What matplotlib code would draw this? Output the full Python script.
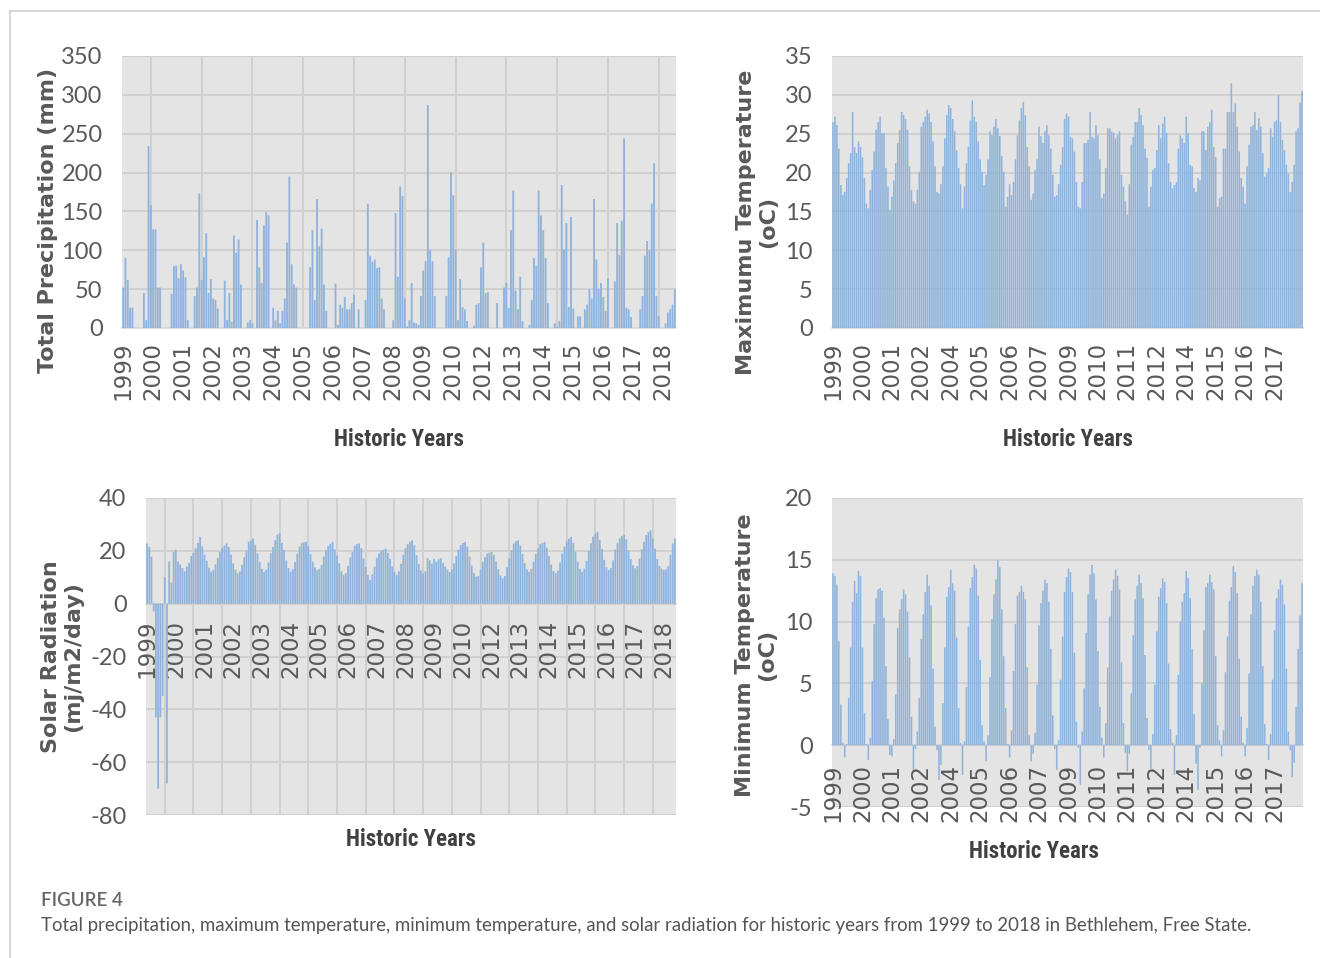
import matplotlib
matplotlib.use("Agg")
import matplotlib.pyplot as plt
from matplotlib.lines import Line2D
import numpy as np

plt.rcParams["axes.unicode_minus"] = False

# ---------------- data (monthly, Jan 1999 - Dec 2018) ----------------
precip_mm = [
    52, 90, 62, 26, 26, 0, 0, 0, 0, 45, 10, 234, 158, 127, 127, 52, 52, 0, 0, 0,
    0, 44, 80, 80, 64, 82, 74, 65, 10, 0, 0, 41, 52, 173, 62, 91, 122, 45, 63, 38,
    36, 25, 0, 0, 61, 10, 45, 8, 119, 97, 114, 56, 0, 0, 7, 10, 6, 0, 139, 78,
    58, 132, 149, 145, 0, 26, 10, 22, 6, 22, 38, 110, 195, 82, 56, 52, 0, 0, 0, 0,
    0, 78, 126, 36, 166, 105, 128, 56, 22, 0, 0, 0, 57, 4, 30, 26, 40, 24, 24, 32,
    43, 0, 24, 0, 0, 36, 160, 93, 85, 88, 77, 78, 38, 24, 0, 0, 0, 10, 148, 66,
    182, 170,
    38, 2, 10, 58, 7, 6, 4, 41, 74, 86, 287, 100, 86, 41, 0, 0, 0, 0, 41, 91,
    200, 171, 101, 10, 63, 27, 24, 9, 0, 0, 3, 30, 32, 78, 110, 45, 46, 0, 0, 0,
    32, 0, 0, 52, 58, 26, 126, 177, 48, 24, 66, 9, 0, 0, 4, 36, 90, 80, 177, 145,
    126, 90, 32, 0, 0, 6, 2, 9, 184, 101, 135, 27, 143, 25, 0, 15, 15, 0, 24, 30,
    50, 38, 166, 88, 50, 58, 40, 22, 64, 0, 0, 60, 135, 94, 138, 244, 26, 24, 14, 0,
    0, 0, 24, 41, 93, 112, 100, 160, 212, 41, 15, 0, 0, 6, 20, 24, 30, 50,
]

tmax_c = [
    26.5, 27.2, 26.1, 23.1, 18.4, 17.1, 17.5, 19.3, 21.2, 22.5, 27.8, 23.3,
    22.5, 24.0, 23.3, 22.0, 19.3, 16.0, 15.4, 17.8, 20.3, 22.7, 25.5, 26.5,
    27.2, 25.1, 25.1, 20.6, 18.2, 15.2, 16.9, 19.0, 21.2, 23.8, 25.5, 27.8,
    27.4, 26.9, 25.5, 20.8, 17.8, 16.3, 16.0, 17.8, 20.1, 25.9, 26.5, 27.2,
    28.1, 27.6, 26.5, 24.0, 20.8, 17.5, 17.3, 18.5, 20.8, 24.4, 27.4, 28.7,
    28.3, 26.9, 25.3, 22.9, 20.6, 18.5, 15.4, 18.2, 21.2, 23.3, 26.7, 29.3,
    27.2, 26.5, 24.0, 21.7, 20.1, 18.4, 19.7, 21.7, 25.3, 24.8, 25.9, 26.9,
    25.7, 24.7, 22.1, 20.1, 15.6, 16.9, 18.5, 17.1, 18.8, 21.7, 24.8, 26.7,
    28.3, 29.1, 27.4, 23.3, 20.8, 16.5, 17.3, 20.3, 21.7, 25.9, 24.7, 23.8,
    25.3, 26.1, 24.8, 23.1, 19.7, 16.9, 17.1, 18.5, 21.0, 23.3, 26.9, 27.6,
    27.2, 24.6, 24.4, 22.7, 18.8, 15.6, 15.4, 18.8, 23.8, 23.8, 24.2, 27.8,
    24.6, 24.4, 26.1, 24.8, 21.7, 16.7, 17.3, 20.6, 25.7, 25.7, 25.3, 25.1,
    24.4, 24.8, 25.3, 19.7, 18.2, 16.3, 14.6, 18.5, 23.6, 24.6, 26.5, 26.5,
    28.3, 27.4, 26.1, 23.1, 21.9, 15.6, 18.2, 20.3, 20.6, 22.9, 26.1, 24.4,
    26.3, 27.2, 25.1, 21.2, 18.8, 18.0, 18.4, 18.8, 23.1, 24.8, 24.4, 23.8,
    27.2, 25.1, 21.0, 20.8, 18.0, 17.5, 19.3, 19.0, 25.3, 25.3, 22.9, 25.9,
    26.5, 28.1, 23.3, 22.0, 15.6, 16.7, 16.9, 23.1, 23.1, 27.8, 27.8, 31.5,
    27.8, 28.9, 25.9, 22.7, 19.3, 18.2, 16.0, 20.8, 23.6, 25.9, 26.1, 27.8,
    25.5, 27.0, 25.9, 22.5, 19.5, 19.9, 20.6, 25.7, 24.6, 26.5, 26.7, 30.0,
    26.5, 24.2, 22.9, 21.0, 19.9, 17.5, 18.8, 21.0, 25.3, 25.7, 29.0, 30.5,
]

solar_mj = [
    22.8, 21.5, 17.8, -3.0, -43.0, -70.0, -43.0, -35.0, 10.0, -68.0, 16.0, 8.0,
    19.7, 20.5, 16.0, 14.8, 13.5, 12.2, 14.0, 15.4, 18.0, 19.2, 21.0, 23.0,
    25.3, 21.7, 18.5, 16.2, 13.6, 12.1, 12.8, 14.9, 17.4, 19.6, 21.2, 22.0,
    22.8, 21.4, 18.6, 15.3, 12.9, 11.5, 12.2, 14.7, 17.6, 20.1, 23.5, 23.9,
    24.7, 22.3, 19.0, 15.8, 13.2, 12.1, 12.9, 15.6, 19.1, 21.5, 24.0, 26.1,
    26.6, 23.0, 20.4, 16.3, 13.5, 12.1, 13.0, 15.8, 18.9, 21.6, 23.0, 23.3,
    23.4, 21.8, 18.7, 15.9, 13.8, 12.7, 13.1, 14.6, 17.9, 20.2, 21.8, 22.7,
    23.4, 20.5, 18.2, 15.3, 12.3, 10.9, 11.6, 14.3, 17.5, 19.6, 21.9, 22.6,
    22.8, 21.0, 17.1, 13.9, 10.8, 9.0, 11.2, 14.0, 17.3, 19.0, 20.0, 20.4,
    20.9, 19.2, 17.0, 14.1, 12.0, 10.9, 12.3, 15.1, 18.5, 21.0, 22.6, 23.5,
    24.0, 22.1, 18.4, 15.0, 12.6, 11.5, 12.3, 17.2, 16.4, 15.1, 16.9, 15.8,
    16.8, 17.2, 15.5, 14.1, 12.9, 12.0, 13.0, 15.2, 18.0, 20.4, 22.1, 23.0,
    23.4, 21.6, 17.9, 14.4, 11.6, 10.2, 10.4, 12.9, 15.8, 17.6, 18.9, 19.3,
    19.6, 18.4, 16.0, 13.1, 10.7, 9.6, 10.5, 13.8, 17.2, 20.3, 22.8, 23.6,
    24.0, 22.0, 18.8, 15.4, 13.0, 12.1, 13.2, 15.9, 18.8, 21.0, 22.5, 23.0,
    23.4, 21.2, 18.0, 14.8, 12.4, 11.5, 12.5, 15.6, 18.9, 21.6, 23.5, 24.6,
    25.3, 23.0, 19.5, 15.9, 13.2, 12.1, 13.3, 16.2, 20.0, 22.9, 25.4, 26.6,
    27.2, 24.1, 20.8, 16.6, 13.8, 12.7, 13.5, 16.4, 20.5, 23.0, 24.8, 25.6,
    26.0, 24.3, 20.2, 16.9, 14.5, 13.4, 14.2, 17.0, 20.6, 23.4, 26.0, 27.1,
    27.8, 24.6, 20.8, 16.9, 14.3, 13.2, 12.7, 13.0, 14.2, 18.5, 22.8, 24.7,
]

tmin_c = [
    13.9, 13.7, 13.0, 8.4, 3.3, 0.2, -1.0, 0.1, 3.8, 7.9, 11.6, 13.3,
    12.3, 14.1, 13.7, 7.9, 2.6, 0.1, -1.2, 0.6, 5.2, 9.8, 11.9, 12.6,
    12.7, 12.5, 10.3, 6.4, 2.1, -0.8, -0.9, 0.5, 4.1, 9.5, 11.0, 11.8,
    12.6, 12.2, 10.8, 7.1, 2.3, -2.0, -0.3, 1.1, 3.8, 8.6, 10.6, 12.4,
    13.8, 12.9, 11.3, 6.2, 1.5, -0.4, -2.8, -1.6, 3.4, 7.9, 12.0, 12.8,
    14.2, 13.1, 12.5, 8.7, 3.0, 0.2, -2.4, 0.3, 4.7, 9.6, 12.7, 13.6,
    14.6, 14.3, 12.1, 6.9, 1.6, 0.3, -1.3, 0.8, 5.5, 10.2, 12.2, 13.4,
    15.0, 14.4, 11.0, 7.2, 3.0, 0.1, -1.0, 1.2, 6.0, 9.8, 12.1, 12.4,
    12.9, 12.4, 11.8, 6.3, 0.8, -1.3, -0.7, 1.0, 4.9, 9.7, 11.5, 12.5,
    13.4, 13.1, 11.6, 7.8, 2.4, -0.3, -2.0, 0.4, 5.3, 8.8, 12.4, 13.6,
    14.3, 14.0, 12.4, 7.5, 1.9, -0.2, -3.2, 1.1, 4.6, 9.1, 12.2, 13.8,
    14.6, 13.9, 11.8, 7.6, 3.1, 0.6, -1.0, 1.8, 6.3, 10.4, 12.5, 13.4,
    14.2, 13.7, 12.6, 6.7, 1.8, -0.6, -2.1, -0.7, 4.2, 8.9, 11.8, 12.9,
    13.8, 13.1, 11.9, 7.3, 2.2, -0.4, -2.0, 0.9, 4.9, 9.2, 12.0, 12.7,
    13.5, 13.2, 11.5, 6.6, 1.3, 0.2, -2.4, 0.8, 5.7, 10.0, 11.6, 12.3,
    14.1, 13.5, 11.9, 7.8, 2.5, -1.5, -3.6, -0.2, 5.0, 9.3, 12.8, 13.1,
    13.8, 13.2, 12.6, 7.2, 1.6, 0.4, -0.9, 1.2, 5.9, 8.8, 11.7, 12.8,
    14.5, 14.0, 12.3, 7.0, 2.3, 0.2, -0.9, 1.4, 5.8, 10.6, 12.9, 13.7,
    14.2, 13.8, 11.6, 6.4, 1.7, 0.1, -1.2, 0.9, 5.3, 9.3, 11.9, 12.6,
    13.4, 13.0, 11.4, 6.2, 1.1, -0.4, -2.6, -1.4, 3.1, 7.8, 10.5, 13.1,
]

# category tick labels (Excel-style label interval)
left_tick_years = ["1999", "2000", "2001", "2002", "2003", "2004", "2005", "2006",
                   "2007", "2008", "2009", "2010", "2012", "2013", "2014", "2015",
                   "2016", "2017", "2018"]          # every 13th month
right_tick_years = ["1999", "2000", "2001", "2002", "2004", "2005", "2006", "2007",
                    "2009", "2010", "2011", "2012", "2014", "2015", "2016", "2017"]  # every 15th month

# ---------------- styling ----------------
W, H = 1320, 958
fig = plt.figure(figsize=(W / 100, H / 100), dpi=100)
fig.patch.set_facecolor("white")

BAR = "#8fb3db"
BG = "#e4e4e4"
GRID = "#d0d0d0"
TXT = "#595959"
LAB = "#595959"
HY = "#404040"


def ax_px(x0, y0, x1, y1):
    return fig.add_axes([x0 / W, 1 - y1 / H, (x1 - x0) / W, (y1 - y0) / H])


def fx(x):
    return x / W


def fy(y):
    return 1 - y / H


def style(ax, vals, ylim, ystep, labels, every, vgrid_every=None, vgrid_start=0,
          zero_axis=False, pad=10):
    n = len(vals)
    x = np.arange(n)
    ax.set_facecolor(BG)
    if zero_axis:
        ax.spines["bottom"].set_position(("data", 0))
        ax.spines["bottom"].set_color(GRID)
    else:
        ax.spines["bottom"].set_color("#d9d9d9")
    ax.spines["bottom"].set_linewidth(1.2)
    ax.spines["bottom"].set_zorder(1)
    ax.bar(x, vals, width=0.8, color=BAR, edgecolor="none", zorder=2,
           snap=False)
    ax.set_xlim(-0.5, n - 0.5)
    ax.set_ylim(*ylim)
    yt = np.arange(ylim[0], ylim[1] + 0.1, ystep)
    ax.set_yticks(yt)
    for yv in yt:
        ax.axhline(yv, color=GRID, linewidth=1.4, zorder=0.6)
    if vgrid_every:
        for xv in np.arange(vgrid_start, n, vgrid_every):
            ax.axvline(xv, color=GRID, linewidth=1.4, zorder=0.5)
    for s in ["top", "right", "left"]:
        ax.spines[s].set_visible(False)
    ax.set_xticks(np.arange(0, every * len(labels), every))
    ax.set_xticklabels(labels, rotation=90, fontsize=16.5, color=TXT,
                       family="DejaVu Sans")
    ax.tick_params(axis="x", length=0, pad=pad)
    ax.tick_params(axis="y", length=0, pad=14, labelsize=17, labelcolor=TXT)
    for t in ax.get_yticklabels():
        t.set_family(["Lato", "DejaVu Sans"])


# Precipitation (top-left)
ax1 = ax_px(122, 56, 676, 328)
style(ax1, precip_mm, (0, 350), 50, left_tick_years, 13, vgrid_every=22, vgrid_start=12)

# Max temperature (top-right)
ax2 = ax_px(832, 56, 1303, 328)
style(ax2, tmax_c, (0, 35), 5, right_tick_years, 15)

# Solar radiation (bottom-left)
ax3 = ax_px(146, 498, 676, 815)
style(ax3, solar_mj, (-80, 40), 20, left_tick_years, 13, vgrid_every=13, vgrid_start=8,
      zero_axis=True, pad=11.5)

# Min temperature (bottom-right)
ax4 = ax_px(832, 498, 1303, 807)
style(ax4, tmin_c, (-5, 20), 5, right_tick_years, 15, zero_axis=True, pad=13.5)

# ---------------- axis titles ----------------
bold = dict(fontsize=16, fontweight="bold", color=LAB, family="DejaVu Sans",
            rotation=90, ha="center", va="center", linespacing=1.15)
fig.text(fx(48), fy(220), "Total Precipitation (mm)", **bold)
fig.text(fx(757), fy(222), "Maximumu Temperature\n(oC)", **bold)
fig.text(fx(62), fy(657), "Solar Radiation\n(mj/m2/day)", **bold)
fig.text(fx(756), fy(655), "Minimum Temperature\n(oC)", **bold)

hy = dict(fontsize=16.5, fontweight="bold", color=HY,
          family=["Roboto Condensed", "Roboto", "DejaVu Sans"], ha="center", va="center")
fig.text(fx(399), fy(440), "Historic Years", **hy)
fig.text(fx(1068), fy(440), "Historic Years", **hy)
fig.text(fx(411), fy(840), "Historic Years", **hy)
fig.text(fx(1034), fy(852), "Historic Years", **hy)

# ---------------- caption and frame ----------------
fig.text(fx(41), fy(901), "FIGURE 4", fontsize=13.5, color="#666666",
         family=["Lato", "DejaVu Sans"], fontweight="semibold", ha="left", va="center")
fig.text(fx(41), fy(926),
         "Total precipitation, maximum temperature, minimum temperature, and solar radiation "
         "for historic years from 1999 to 2018 in Bethlehem, Free State.",
         fontsize=13.4, color="#555555", family=["Lato", "DejaVu Sans"],
         ha="left", va="center")

fig.add_artist(Line2D([fx(10), 1], [fy(11), fy(11)], color="#cfcfcf", linewidth=1.2))
fig.add_artist(Line2D([fx(10), fx(10)], [fy(11), 0], color="#cfcfcf", linewidth=1.2))

fig.savefig("out.png", dpi=100, facecolor="white")
